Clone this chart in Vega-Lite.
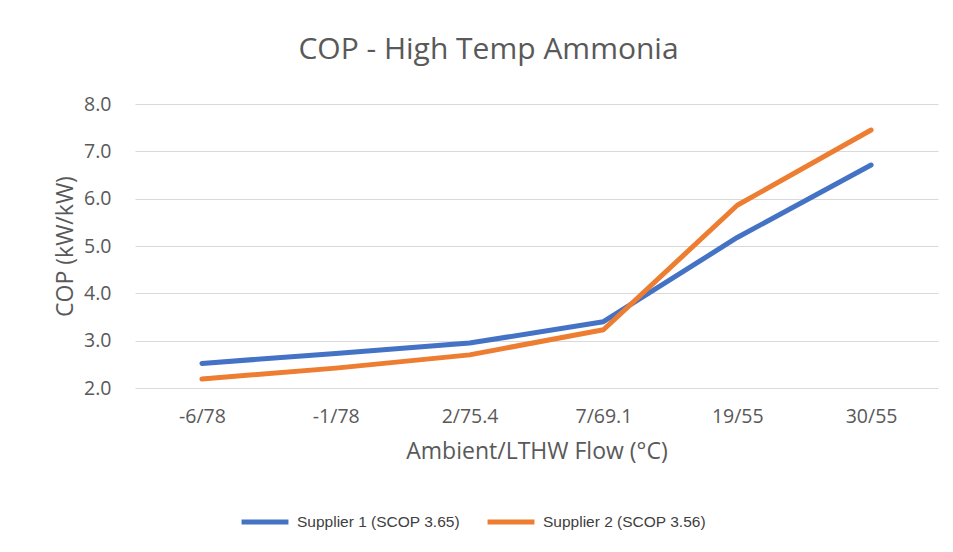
{
  "$schema": "https://vega.github.io/schema/vega-lite/v6.json",
  "width": 803,
  "height": 284,
  "autosize": {"type": "none"},
  "padding": {"left": 135, "top": 104, "right": 15, "bottom": 164},
  "background": "white",
  "title": {
    "text": "COP - High Temp Ammonia",
    "font": "Open Sans",
    "fontSize": 30,
    "fontWeight": "normal",
    "color": "#595959",
    "anchor": "middle",
    "dx": -48,
    "offset": 29
  },
  "data": {
    "values": [
      {"cat": "-6/78", "series": "Supplier 1 (SCOP 3.65)", "cop": 2.52},
      {"cat": "-1/78", "series": "Supplier 1 (SCOP 3.65)", "cop": 2.73},
      {"cat": "2/75.4", "series": "Supplier 1 (SCOP 3.65)", "cop": 2.95},
      {"cat": "7/69.1", "series": "Supplier 1 (SCOP 3.65)", "cop": 3.4},
      {"cat": "19/55", "series": "Supplier 1 (SCOP 3.65)", "cop": 5.18},
      {"cat": "30/55", "series": "Supplier 1 (SCOP 3.65)", "cop": 6.71},
      {"cat": "-6/78", "series": "Supplier 2 (SCOP 3.56)", "cop": 2.19},
      {"cat": "-1/78", "series": "Supplier 2 (SCOP 3.56)", "cop": 2.42},
      {"cat": "2/75.4", "series": "Supplier 2 (SCOP 3.56)", "cop": 2.7},
      {"cat": "7/69.1", "series": "Supplier 2 (SCOP 3.56)", "cop": 3.23},
      {"cat": "19/55", "series": "Supplier 2 (SCOP 3.56)", "cop": 5.86},
      {"cat": "30/55", "series": "Supplier 2 (SCOP 3.56)", "cop": 7.45}
    ]
  },
  "mark": {"type": "line", "strokeWidth": 5, "strokeCap": "round", "strokeJoin": "round"},
  "encoding": {
    "x": {
      "field": "cat",
      "type": "nominal",
      "sort": ["-6/78", "-1/78", "2/75.4", "7/69.1", "19/55", "30/55"],
      "scale": {"type": "point", "padding": 0.5},
      "axis": {
        "title": "Ambient/LTHW Flow (°C)",
        "labelAngle": 0,
        "domain": false,
        "ticks": false,
        "grid": false,
        "labelFont": "Open Sans",
        "labelFontSize": 19.5,
        "labelColor": "#595959",
        "labelPadding": 19,
        "titleFont": "Open Sans",
        "titleFontSize": 23,
        "titleFontWeight": "normal",
        "titleColor": "#595959",
        "titlePadding": 15
      }
    },
    "y": {
      "field": "cop",
      "type": "quantitative",
      "scale": {"domain": [2, 8], "nice": false, "zero": false},
      "axis": {
        "title": "COP (kW/kW)",
        "values": [2, 3, 4, 5, 6, 7, 8],
        "format": ".1f",
        "domain": false,
        "ticks": false,
        "gridColor": "#d9d9d9",
        "gridWidth": 1,
        "labelFont": "Open Sans",
        "labelFontSize": 19.5,
        "labelColor": "#595959",
        "labelPadding": 24,
        "titleFont": "Open Sans",
        "titleFontSize": 23,
        "titleFontWeight": "normal",
        "titleColor": "#595959",
        "titlePadding": 6
      }
    },
    "color": {
      "field": "series",
      "type": "nominal",
      "scale": {"range": ["#4472C4", "#ED7D31"]},
      "legend": {
        "title": null,
        "orient": "none",
        "direction": "horizontal",
        "legendX": 104,
        "legendY": 392,
        "symbolType": "stroke",
        "symbolSize": 2200,
        "symbolStrokeWidth": 5,
        "labelFont": "Liberation Sans",
        "labelFontSize": 15.5,
        "labelColor": "#404040",
        "labelOffset": 6,
        "labelLimit": 400,
        "columnPadding": 17
      }
    }
  },
  "config": {
    "view": {"stroke": null}
  }
}
